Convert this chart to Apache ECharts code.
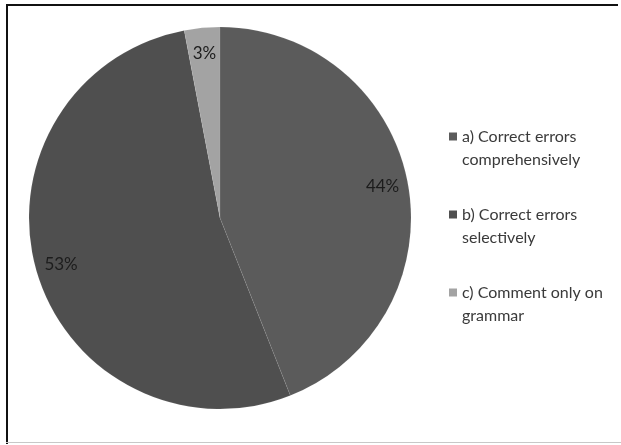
<!DOCTYPE html>
<html>
<head>
<meta charset="utf-8">
<script src="https://cdn.jsdelivr.net/npm/echarts@6/dist/echarts.min.js"></script>
<style>
  html, body { margin: 0; padding: 0; background: #ffffff; }
  #chart { width: 621px; height: 445px; }
</style>
</head>
<body>
<div id="chart"></div>
<script>
// Survey answers: how teachers handle errors in student writing
const categories = [
  'a) Correct errors comprehensively',
  'b) Correct errors selectively',
  'c) Comment only on grammar'
];
const legendLines = [
  ['a) Correct errors', 'comprehensively'],
  ['b) Correct errors', 'selectively'],
  ['c) Comment only on', 'grammar']
];
const shares = [44, 53, 3];
const sliceColors = ['#5b5b5b', '#4f4f4f', '#a3a3a3'];

const pieData = categories.map((name, i) => ({
  name: name,
  value: shares[i],
  itemStyle: { color: sliceColors[i] }
}));

const chart = echarts.init(document.getElementById('chart'), null, { renderer: 'canvas' });

const font = 'Lato, "Open Sans", sans-serif';

chart.setOption({
  backgroundColor: '#ffffff',
  animation: false,
  legend: {
    orient: 'vertical',
    left: 444,
    top: 97,
    itemWidth: 8,
    itemHeight: 8,
    itemGap: 9,
    icon: 'rect',
    itemStyle: { borderWidth: 0 },
    data: categories,
    // a blank first line keeps the marker level with the first text line
    formatter: function (name) {
      const i = categories.indexOf(name);
      return '\n' + legendLines[i].join('\n');
    },
    textStyle: {
      fontFamily: font,
      fontSize: 16,
      lineHeight: 23,
      color: '#3a3a3a',
      padding: [0, 0, 0, 0]
    }
  },
  graphic: [
    { type: 'rect', shape: { x: 6, y: 4, width: 2, height: 440 }, style: { fill: '#111' } },
    { type: 'rect', shape: { x: 6, y: 4, width: 612, height: 2 }, style: { fill: '#111' } },
    { type: 'rect', shape: { x: 6, y: 442, width: 615, height: 1 }, style: { fill: '#c8c8c8' } }
  ],
  series: [
    {
      type: 'pie',
      center: [220, 218],
      radius: [0, 191],
      startAngle: 90,
      clockwise: true,
      silent: true,
      label: { show: false },
      labelLine: { show: false },
      itemStyle: { borderColor: 'rgba(255,255,255,0.07)', borderWidth: 1 },
      data: pieData
    },
    {
      // transparent ring that carries the percentage labels near the rim
      type: 'pie',
      center: [220, 218],
      radius: [134, 191],
      startAngle: 90,
      clockwise: true,
      silent: true,
      legendHoverLink: false,
      itemStyle: { color: 'rgba(0,0,0,0)', borderWidth: 0 },
      label: {
        show: true,
        position: 'inside',
        formatter: '{c}%',
        fontFamily: font,
        fontSize: 17,
        color: '#1c1c1c'
      },
      labelLine: { show: false },
      data: categories.map((name, i) => ({ name: name, value: shares[i] }))
    }
  ]
});
</script>
</body>
</html>
